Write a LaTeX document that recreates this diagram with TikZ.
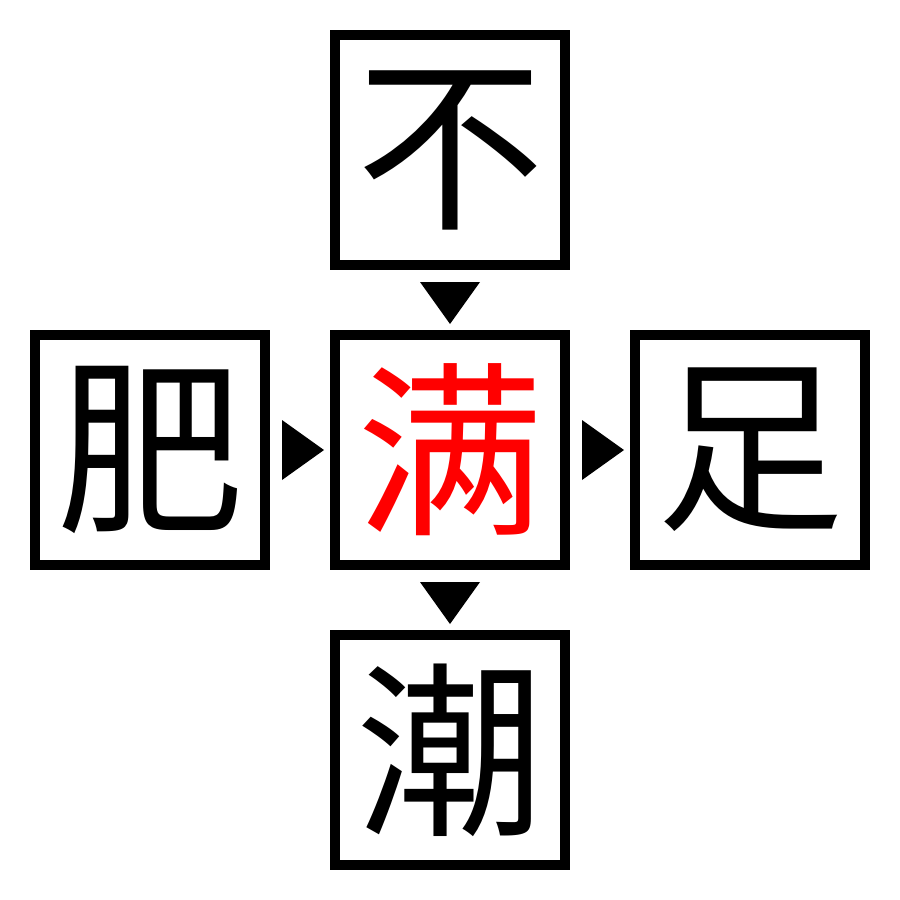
\documentclass[tikz,border=0pt]{standalone}
\usepackage{fontspec}
\usetikzlibrary{calc}
\newfontfamily\cjk{Noto Sans CJK SC}
\definecolor{hired}{RGB}{255,0,0}
\begin{document}
\begin{tikzpicture}[x=1pt,y=-1pt,
  charbox/.style={draw=black,line width=10pt,minimum size=230pt,inner sep=0pt,font=\cjk\fontsize{188}{188}\selectfont},
  tri/.style={fill=black,draw=none}]
\useasboundingbox (0,0) rectangle (900,900);
\node[charbox] (top) at (450,150) {不};
\node[charbox] (left) at (150,450) {肥};
\node[charbox,text=hired] (mid) at (450,450) {满};
\node[charbox] (right) at (750,450) {足};
\node[charbox] (bot) at (450,750) {潮};
\fill[tri] ($(top.south)+(-30,12)$) -- ($(top.south)+(30,12)$) -- ($(top.south)+(0,54)$) -- cycle;
\fill[tri] ($(mid.south)+(-30,12)$) -- ($(mid.south)+(30,12)$) -- ($(mid.south)+(0,54)$) -- cycle;
\fill[tri] ($(left.east)+(12,-30)$) -- ($(left.east)+(12,30)$) -- ($(left.east)+(54,0)$) -- cycle;
\fill[tri] ($(mid.east)+(12,-30)$) -- ($(mid.east)+(12,30)$) -- ($(mid.east)+(54,0)$) -- cycle;
\end{tikzpicture}
\end{document}
